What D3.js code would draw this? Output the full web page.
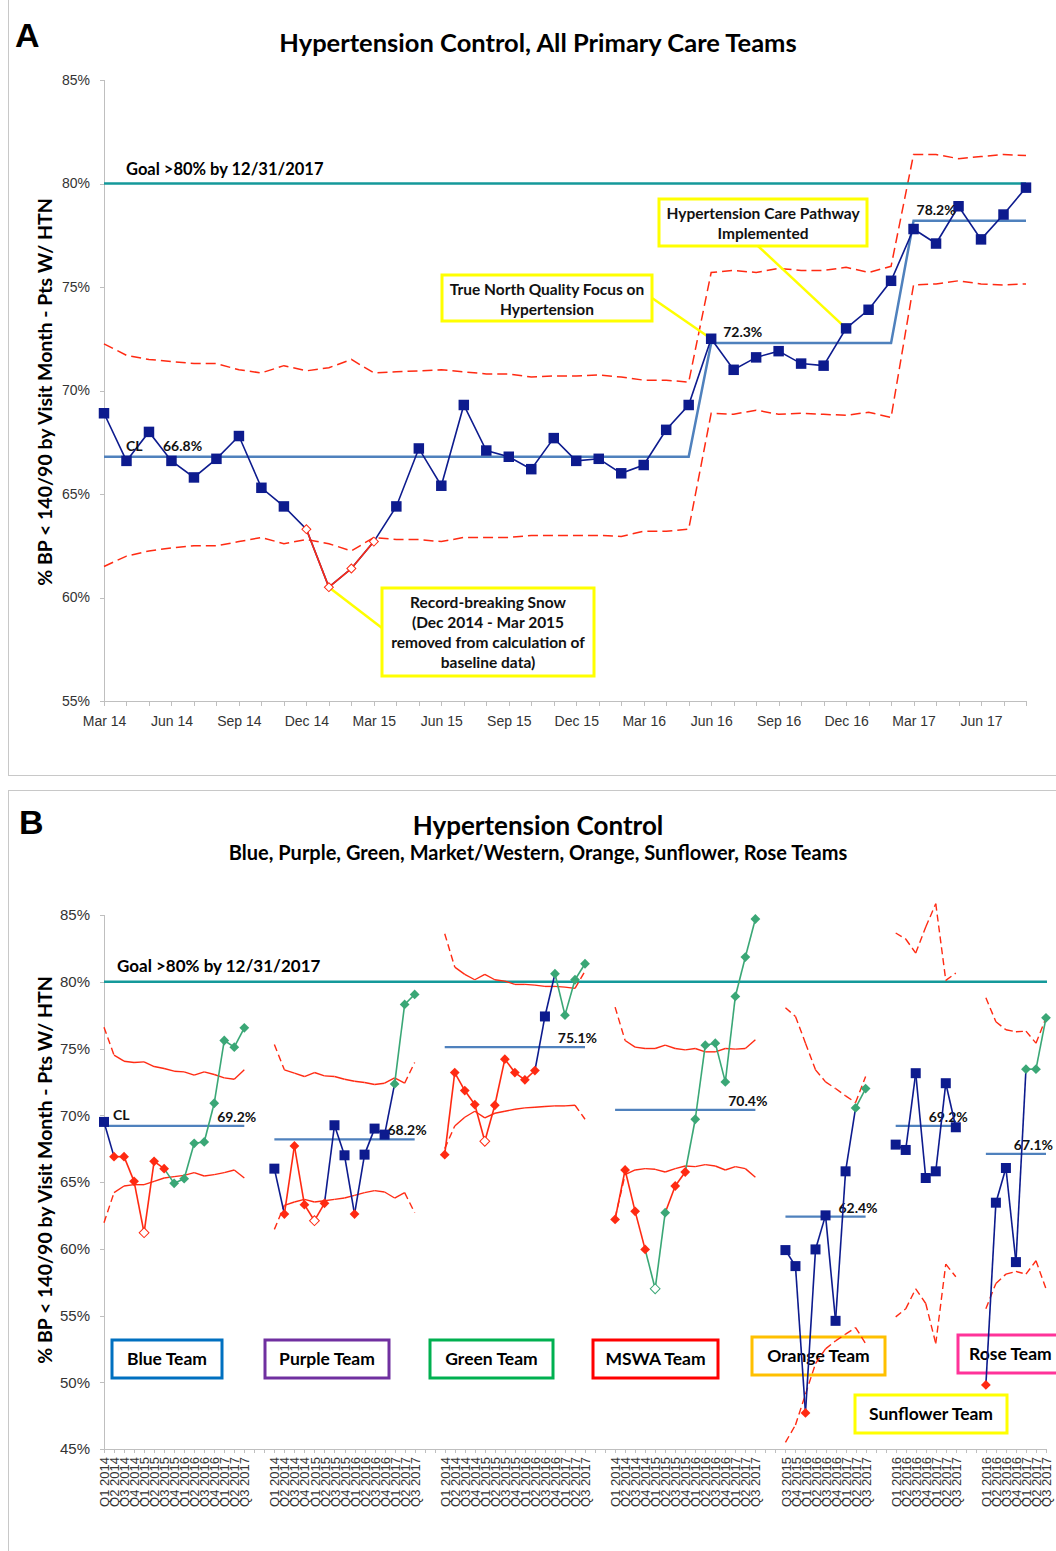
<!DOCTYPE html>
<meta charset="utf-8">
<style>
    body { margin: 0; background: #fff; }
    svg { font-family: Lato, "Liberation Sans", sans-serif; }
    .axis path, .axis line { fill: none; stroke: #bfbfbf; shape-rendering: crispEdges; }
    .axis text { fill: #333; font-size: 14px; }
    .note { font-weight: bold; font-size: 15.5px; fill: #111; }
    .cl { font-weight: bold; font-size: 14px; fill: #111; }
</style>
<body>
<script src="https://cdn.jsdelivr.net/npm/d3@7"></script>
<script>
    // ---------- panel A data (monthly, all primary care teams)
    const monthLabels = ["Mar 14","Apr 14","May 14","Jun 14","Jul 14","Aug 14","Sep 14","Oct 14","Nov 14","Dec 14",
        "Jan 15","Feb 15","Mar 15","Apr 15","May 15","Jun 15","Jul 15","Aug 15","Sep 15","Oct 15","Nov 15","Dec 15",
        "Jan 16","Feb 16","Mar 16","Apr 16","May 16","Jun 16","Jul 16","Aug 16","Sep 16","Oct 16","Nov 16","Dec 16",
        "Jan 17","Feb 17","Mar 17","Apr 17","May 17","Jun 17","Jul 17","Aug 17"];
    const allRate = [68.9, 66.6, 68.0, 66.6, 65.8, 66.7, 67.8, 65.3, 64.4, 63.3, 60.5, 61.4, 62.7, 64.4, 67.2, 65.4,
        69.3, 67.1, 66.8, 66.2, 67.7, 66.6, 66.7, 66.0, 66.4, 68.1, 69.3, 72.5, 71.0, 71.6, 71.9, 71.3, 71.2, 73.0,
        73.9, 75.3, 77.8, 77.1, 78.9, 77.3, 78.5, 79.8];
    const allUcl = [72.25, 71.7, 71.5, 71.4, 71.3, 71.3, 71.0, 70.85, 71.2, 70.95, 71.1, 71.5, 70.85, 70.9, 70.95, 71.0,
        70.9, 70.8, 70.8, 70.65, 70.7, 70.7, 70.75, 70.65, 70.5, 70.5, 70.4, 75.7, 75.8, 75.7, 75.9, 75.8, 75.8, 75.95,
        75.7, 76.0, 81.4, 81.4, 81.2, 81.3, 81.4, 81.35];
    const allLcl = [61.5, 62.0, 62.25, 62.4, 62.5, 62.5, 62.7, 62.9, 62.6, 62.8, 62.6, 62.25, 62.9, 62.8, 62.8, 62.7,
        62.9, 62.9, 62.9, 63.0, 63.0, 63.0, 63.0, 62.95, 63.2, 63.2, 63.3, 68.9, 68.85, 69.05, 68.85, 68.9, 68.85, 68.8,
        68.95, 68.7, 75.1, 75.15, 75.3, 75.15, 75.1, 75.15];
    const allExcluded = ["Dec 14", "Jan 15", "Feb 15", "Mar 15"];
    const clStart = ["Mar 14", "Jun 16", "Mar 17"];
    const clValue = [66.8, 72.3, 78.2];
    const goalValue = 80;

    // ---------- panel B data (quarterly, per team)
    const quartersFull = ["Q1 2014","Q2 2014","Q3 2014","Q4 2014","Q1 2015","Q2 2015","Q3 2015","Q4 2015",
        "Q1 2016","Q2 2016","Q3 2016","Q4 2016","Q1 2017","Q2 2017","Q3 2017"];
    const teamNames = ["Blue Team", "Purple Team", "Green Team", "MSWA Team", "Orange Team", "Sunflower Team", "Rose Team"];
    const teamFirstQuarter = ["Q1 2014", "Q1 2014", "Q1 2014", "Q1 2014", "Q3 2015", "Q1 2016", "Q1 2016"];
    const teamCL = [69.2, 68.2, 75.1, 70.4, 62.4, 69.2, 67.1];

    // kind: b = blue square, r = red diamond, o = open red diamond, g = green diamond, h = open green diamond
    const blueRate = [69.5, 66.9, 66.9, 65.05, 61.2, 66.55, 66.0, 64.9, 65.25, 67.9, 68.0, 70.9, 75.6, 75.1, 76.55];
    const blueKind = "brrrorrgggggggg";
    const blueUcl = [76.6, 74.5, 74.05, 73.95, 74.0, 73.65, 73.5, 73.3, 73.25, 73.0, 73.25, 73.05, 72.8, 72.7, 73.4];
    const blueLcl = [61.95, 64.2, 64.7, 64.8, 64.8, 65.05, 65.3, 65.4, 65.5, 65.7, 65.45, 65.55, 65.7, 65.9, 65.3];

    const purpleRate = [66.0, 62.6, 67.7, 63.3, 62.1, 63.4, 69.25, 67.0, 62.6, 67.05, 69.0, 68.55, 72.35, 78.3, 79.05];
    const purpleKind = "brrrorbbrbbbggg";
    const purpleUcl = [75.3, 73.4, 73.15, 72.9, 73.2, 72.95, 72.9, 72.7, 72.55, 72.45, 72.3, 72.4, 72.8, 72.4, 73.95];
    const purpleLcl = [61.45, 63.25, 63.5, 63.7, 63.5, 63.6, 63.7, 63.8, 64.0, 64.2, 64.35, 64.25, 63.8, 64.2, 62.7];

    const greenRate = [67.05, 73.2, 71.85, 70.8, 68.05, 70.75, 74.2, 73.2, 72.65, 73.35, 77.4, 80.6, 77.5, 80.15, 81.35];
    const greenKind = "rrrrorrrrrbgggg";
    const greenUcl = [83.6, 81.1, 80.55, 80.15, 80.55, 80.15, 80.05, 79.8, 79.8, 79.75, 79.65, 79.65, 79.6, 79.5, 80.8];
    const greenLcl = [67.5, 69.2, 69.85, 70.3, 69.8, 70.15, 70.3, 70.45, 70.55, 70.6, 70.65, 70.7, 70.7, 70.75, 69.7];

    const mswaRate = [62.2, 65.9, 62.8, 59.95, 57.0, 62.7, 64.7, 65.75, 69.7, 75.25, 75.4, 72.5, 78.9, 81.85, 84.7];
    const mswaKind = "rrrrhgrrggggggg";
    const mswaUcl = [78.1, 75.6, 75.1, 75.0, 75.0, 75.25, 75.0, 74.9, 75.0, 74.75, 74.75, 75.0, 74.95, 75.0, 75.65];
    const mswaLcl = [62.3, 65.55, 65.9, 66.0, 65.95, 65.75, 66.0, 66.2, 66.15, 66.3, 66.2, 65.9, 66.15, 66.0, 65.35];

    const orangeRate = [59.9, 58.7, 47.7, 59.95, 62.5, 54.6, 65.8, 70.55, 72.0];
    const orangeKind = "bbrbbbbgg";
    const orangeUcl = [78.05, 77.4, 75.4, 73.4, 72.5, 72.0, 71.45, 70.95, 72.9];
    const orangeLcl = [45.5, 46.8, 49.1, 51.4, 52.5, 53.1, 53.6, 54.1, 52.9];

    const sunflowerRate = [67.8, 67.4, 73.15, 65.3, 65.8, 72.4, 69.1];
    const sunflowerKind = "bbbbbbb";
    const sunflowerUcl = [83.65, 83.2, 82.15, 84.1, 85.85, 80.1, 80.65];
    const sunflowerLcl = [54.9, 55.5, 57.0, 55.9, 52.9, 58.85, 57.9];

    const roseRate = [49.8, 63.45, 66.05, 59.0, 73.45, 73.45, 77.3];
    const roseKind = "rbbbggg";
    const roseUcl = [78.8, 77.0, 76.4, 76.25, 76.3, 75.4, 77.3];
    const roseLcl = [55.5, 57.4, 58.1, 58.3, 58.1, 59.1, 57.0];

    // ---------- styles
    const navy = "#0d1b8e", red = "#ff2a12", green = "#3aa776", clBlue = "#4f81bd", teal = "#14999a";
    const teamBoxColor = ["#0070c0", "#7030a0", "#00b050", "#ff0000", "#ffc000", "#ffff00", "#ff3399"];
    const limitDashFirst = [true, true, true, true, true, true, true];
    const limitDashLast = [false, true, true, false, true, true, true];
    const limitAllDashed = [false, false, false, false, true, true, true];

    const svg = d3.select("body").append("svg").attr("width", 1056).attr("height", 1551);

    // panel frames
    svg.append("rect").attr("x", 8.5).attr("y", -2).attr("width", 1060).attr("height", 777.5)
        .attr("fill", "none").attr("stroke", "#c8c8c8");
    svg.append("rect").attr("x", 8.5).attr("y", 790.5).attr("width", 1060).attr("height", 800)
        .attr("fill", "none").attr("stroke", "#c8c8c8");

    // ============================ PANEL A ============================
    const xA = d3.scaleLinear().domain([0, monthLabels.length - 1]).range([104, 1026]);
    const yA = d3.scaleLinear().domain([55, 85]).range([701, 80]);
    const gA = svg.append("g");

    svg.append("text").attr("x", 15).attr("y", 47).style("font-family", "'Liberation Sans', Arial")
        .style("font-weight", "bold").style("font-size", "34px").text("A");
    svg.append("text").attr("x", 538).attr("y", 52).attr("text-anchor", "middle")
        .style("font-weight", "bold").style("font-size", "25.5px").text("Hypertension Control, All Primary Care Teams");

    gA.append("g").attr("class", "axis").attr("transform", "translate(104,0)")
        .call(d3.axisLeft(yA).tickValues(d3.range(55, 86, 5)).tickFormat(d => d + "%").tickSize(4).tickPadding(10));
    gA.append("g").attr("class", "axis").attr("transform", "translate(0,701)")
        .call(d3.axisBottom(xA).tickValues(d3.range(monthLabels.length))
            .tickFormat(i => i % 3 === 0 ? monthLabels[i] : "").tickSize(5).tickPadding(10));

    svg.append("text").attr("transform", "translate(52,392) rotate(-90)").attr("text-anchor", "middle")
        .style("font-weight", "bold").style("font-size", "19.5px").text("% BP < 140/90 by Visit Month - Pts W/ HTN");

    const lineA = d3.line().x((d, i) => xA(i)).y(d => yA(d));
    [allUcl, allLcl].forEach(arr => {
        gA.append("path").datum(arr).attr("d", lineA).attr("fill", "none")
            .attr("stroke", red).attr("stroke-width", 1.5).attr("stroke-dasharray", "10,5");
    });

    const clIdx = clStart.map(m => monthLabels.indexOf(m));
    const allCL = monthLabels.map((m, i) => {
        let v = clValue[0];
        clIdx.forEach((s, k) => { if (i >= s) v = clValue[k]; });
        return v;
    });
    gA.append("path").datum(allCL).attr("d", lineA).attr("fill", "none")
        .attr("stroke", clBlue).attr("stroke-width", 2.5);

    gA.append("line").attr("x1", xA(0)).attr("x2", xA(monthLabels.length - 1))
        .attr("y1", yA(goalValue)).attr("y2", yA(goalValue)).attr("stroke", teal).attr("stroke-width", 2.5);
    gA.append("text").attr("x", 126).attr("y", yA(goalValue) - 9)
        .style("font-weight", "bold").style("font-size", "16.5px").text("Goal >80% by 12/31/2017");

    // annotation boxes (behind data)
    function noteBox(g, x, y, w, h, lines, leader) {
        g.append("line").attr("x1", leader[0]).attr("y1", leader[1]).attr("x2", leader[2]).attr("y2", leader[3])
            .attr("stroke", "#ffff00").attr("stroke-width", 2.5);
        g.append("rect").attr("x", x).attr("y", y).attr("width", w).attr("height", h)
            .attr("fill", "#fff").attr("stroke", "#ffff00").attr("stroke-width", 3);
        lines.forEach((t, i) => {
            g.append("text").attr("class", "note").attr("x", x + w / 2).attr("y", y + 20 + i * 20)
                .attr("text-anchor", "middle").text(t);
        });
    }
    const iPath = monthLabels.indexOf("Dec 16"), iNorth = monthLabels.indexOf("Jun 16"), iSnow = monthLabels.indexOf("Jan 15");
    noteBox(gA, 659, 199, 208, 47, ["Hypertension Care Pathway", "Implemented"],
        [758, 246, xA(iPath), yA(allRate[iPath])]);
    noteBox(gA, 442, 275, 210, 46, ["True North Quality Focus on", "Hypertension"],
        [652, 298, xA(iNorth), yA(allRate[iNorth])]);
    noteBox(gA, 382, 588, 212, 88, ["Record-breaking Snow", "(Dec 2014 - Mar 2015", "removed from calculation of", "baseline data)"],
        [xA(iSnow), yA(allRate[iSnow]), 382, 628]);

    gA.append("path").datum(allRate).attr("d", lineA).attr("fill", "none")
        .attr("stroke", navy).attr("stroke-width", 1.6);
    const excl = i => allExcluded.includes(monthLabels[i]);
    allRate.forEach((v, i) => {
        if (i > 0 && excl(i) && excl(i - 1)) {
            gA.append("line").attr("x1", xA(i - 1)).attr("y1", yA(allRate[i - 1])).attr("x2", xA(i)).attr("y2", yA(v))
                .attr("stroke", red).attr("stroke-width", 1.6);
        }
    });
    gA.selectAll(".ptA").data(allRate).enter().append("path")
        .attr("transform", (d, i) => `translate(${xA(i)},${yA(d)})` + (excl(i) ? " rotate(45)" : ""))
        .attr("d", (d, i) => d3.symbol(d3.symbolSquare, excl(i) ? 40 : 110)())
        .attr("fill", (d, i) => excl(i) ? "#fff" : navy)
        .attr("stroke", (d, i) => excl(i) ? red : "none").attr("stroke-width", 1);

    gA.append("text").attr("class", "cl").attr("x", 126).attr("y", yA(clValue[0]) - 6).text("CL");
    clIdx.forEach((s, k) => {
        const x = k === 0 ? 163 : xA(s) + (k === 1 ? 12 : 3);
        gA.append("text").attr("class", "cl").attr("x", x).attr("y", yA(clValue[k]) - 6).text(clValue[k].toFixed(1) + "%");
    });

    // ============================ PANEL B ============================
    const teamRate = [blueRate, purpleRate, greenRate, mswaRate, orangeRate, sunflowerRate, roseRate];
    const teamKind = [blueKind, purpleKind, greenKind, mswaKind, orangeKind, sunflowerKind, roseKind];
    const teamUcl = [blueUcl, purpleUcl, greenUcl, mswaUcl, orangeUcl, sunflowerUcl, roseUcl];
    const teamLcl = [blueLcl, purpleLcl, greenLcl, mswaLcl, orangeLcl, sunflowerLcl, roseLcl];

    const categories = [];
    const teamKeys = teamNames.map((t, ti) => {
        if (ti > 0) { categories.push({ key: "gap" + ti + "a", label: "" }, { key: "gap" + ti + "b", label: "" }); }
        const qs = quartersFull.slice(quartersFull.indexOf(teamFirstQuarter[ti]));
        const keys = qs.map(q => t + "|" + q);
        qs.forEach((q, i) => categories.push({ key: keys[i], label: q }));
        return keys;
    });
    const labelOf = new Map(categories.map(c => [c.key, c.label]));

    const xB = d3.scalePoint().domain(categories.map(c => c.key)).range([104, 1046]);
    const yB = d3.scaleLinear().domain([45, 85]).range([1449, 915]);
    const gB = svg.append("g");

    svg.append("text").attr("x", 19).attr("y", 834).style("font-family", "'Liberation Sans', Arial")
        .style("font-weight", "bold").style("font-size", "34px").text("B");
    svg.append("text").attr("x", 538).attr("y", 835).attr("text-anchor", "middle")
        .style("font-weight", "bold").style("font-size", "26px").text("Hypertension Control");
    svg.append("text").attr("x", 538).attr("y", 860).attr("text-anchor", "middle")
        .style("font-weight", "bold").style("font-size", "20px")
        .text("Blue, Purple, Green, Market/Western, Orange, Sunflower, Rose Teams");

    gB.append("g").attr("class", "axis").attr("transform", "translate(104,0)")
        .call(d3.axisLeft(yB).tickValues(d3.range(45, 86, 5)).tickFormat(d => d + "%").tickSize(4).tickPadding(10))
        .selectAll("text").style("font-size", "15px");
    gB.append("g").attr("class", "axis").attr("transform", "translate(0,1449)")
        .call(d3.axisBottom(xB).tickFormat(k => labelOf.get(k)).tickSize(4))
        .selectAll("text")
        .attr("transform", "rotate(-90)").attr("text-anchor", "end")
        .attr("x", -8).attr("y", 0).attr("dy", "0.35em").style("font-size", "13px");

    svg.append("text").attr("transform", "translate(52,1170) rotate(-90)").attr("text-anchor", "middle")
        .style("font-weight", "bold").style("font-size", "19.5px").text("% BP < 140/90 by Visit Month - Pts W/ HTN");

    gB.append("line").attr("x1", 104).attr("x2", 1047).attr("y1", yB(goalValue)).attr("y2", yB(goalValue))
        .attr("stroke", teal).attr("stroke-width", 2.5);
    gB.append("text").attr("x", 117).attr("y", yB(goalValue) - 10)
        .style("font-weight", "bold").style("font-size", "17px").text("Goal >80% by 12/31/2017");

    // team name boxes
    const boxes = [[112, 1340, 110], [265, 1340, 124], [430, 1340, 123], [593, 1340, 125],
        [752, 1337, 133], [855, 1395, 152], [958, 1335, 110]];
    boxes.forEach((b, ti) => {
        gB.append("rect").attr("x", b[0]).attr("y", b[1]).attr("width", b[2]).attr("height", 38)
            .attr("fill", "#fff").attr("stroke", teamBoxColor[ti]).attr("stroke-width", 3);
        gB.append("text").attr("x", ti === 6 ? 969 : b[0] + b[2] / 2).attr("y", b[1] + 25)
            .attr("text-anchor", ti === 6 ? "start" : "middle")
            .style("font-weight", "bold").style("font-size", "17.5px").text(teamNames[ti]);
    });

    const kindColor = { b: navy, r: red, o: red, g: green, h: green };
    teamNames.forEach((t, ti) => {
        const keys = teamKeys[ti];
        const n = keys.length;
        // control limits
        [teamUcl[ti], teamLcl[ti]].forEach(lim => {
            for (let i = 1; i < n; i++) {
                const dashed = limitAllDashed[ti] || (i === 1 && limitDashFirst[ti]) || (i === n - 1 && limitDashLast[ti]);
                gB.append("line").attr("x1", xB(keys[i - 1])).attr("y1", yB(lim[i - 1]))
                    .attr("x2", xB(keys[i])).attr("y2", yB(lim[i]))
                    .attr("stroke", red).attr("stroke-width", 1.4)
                    .attr("stroke-dasharray", dashed ? "7,4" : null);
            }
        });
        // center line
        gB.append("line").attr("x1", xB(keys[0])).attr("x2", xB(keys[n - 1]))
            .attr("y1", yB(teamCL[ti])).attr("y2", yB(teamCL[ti])).attr("stroke", clBlue).attr("stroke-width", 2.2);
        gB.append("text").attr("class", "cl").attr("x", Math.min(xB(keys[n - 1]) + 12, 1053)).attr("y", yB(teamCL[ti]) - 4)
            .attr("text-anchor", "end").text(teamCL[ti].toFixed(1) + "%");
        if (ti === 0) {
            gB.append("text").attr("class", "cl").attr("x", xB(keys[0]) + 9).attr("y", yB(teamCL[ti]) - 6).text("CL");
        }
        // data segments
        const rate = teamRate[ti], kind = teamKind[ti];
        for (let i = 1; i < n; i++) {
            const c = (kind[i - 1] === "b" || kind[i] === "b") ? navy : kindColor[kind[i]];
            gB.append("line").attr("x1", xB(keys[i - 1])).attr("y1", yB(rate[i - 1]))
                .attr("x2", xB(keys[i])).attr("y2", yB(rate[i]))
                .attr("stroke", c).attr("stroke-width", 1.6);
        }
        // markers
        rate.forEach((v, i) => {
            const k = kind[i];
            const open = k === "o" || k === "h";
            gB.append("path")
                .attr("transform", `translate(${xB(keys[i])},${yB(v)})` + (k === "b" ? "" : " rotate(45)"))
                .attr("d", d3.symbol(d3.symbolSquare, k === "b" ? 100 : 48)())
                .attr("fill", open ? "#fff" : kindColor[k])
                .attr("stroke", open ? kindColor[k] : "none").attr("stroke-width", 1);
        });
    });
</script>
</body>
</html>
